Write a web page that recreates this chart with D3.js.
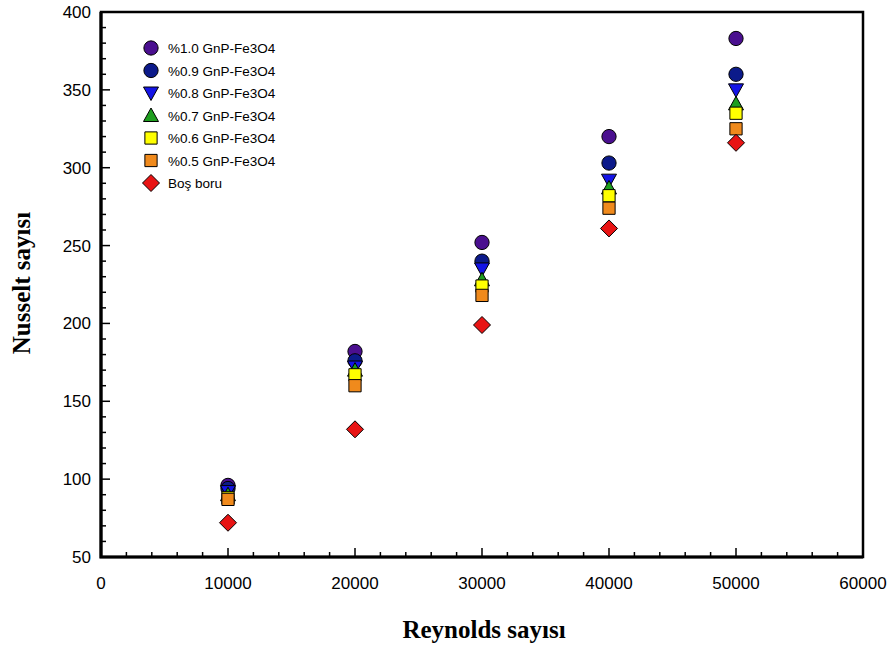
<!DOCTYPE html>
<html>
<head>
<meta charset="utf-8">
<script src="https://cdn.jsdelivr.net/npm/d3@7"></script>
<style>
    body { margin: 0; background: #fff; }
    svg { display: block; }
</style>
</head>
<body>
<script>
    "use strict";
    // data
    var reynolds = [10000, 20000, 30000, 40000, 50000];
    var seriesNames = ["%1.0 GnP-Fe3O4", "%0.9 GnP-Fe3O4", "%0.8 GnP-Fe3O4", "%0.7 GnP-Fe3O4",
                       "%0.6 GnP-Fe3O4", "%0.5 GnP-Fe3O4", "Boş boru"];
    var nu10 = [96, 182, 252, 320, 383];
    var nu09 = [94, 176, 240, 303, 360];
    var nu08 = [92, 172, 235, 292, 350];
    var nu07 = [90, 170, 228, 287, 341];
    var nu06 = [88, 167, 224, 282, 335];
    var nu05 = [87, 160, 218, 274, 325];
    var nuBos = [72, 132, 199, 261, 316];
    var xTicks = [0, 10000, 20000, 30000, 40000, 50000, 60000];
    var yTicks = [50, 100, 150, 200, 250, 300, 350, 400];

    var allSeries = [nu10, nu09, nu08, nu07, nu06, nu05, nuBos];
    var colors = ["#4a0f8f", "#0c1a8a", "#1414e6", "#1e9e1e", "#ffff00", "#f08a1c", "#e81414"];
    var shapes = ["circle", "circle", "triDown", "triUp", "square", "square", "diamond"];

    var W = 895, H = 648;
    var m = {left: 101, right: 863, top: 12, bottom: 557};

    var svg = d3.select("body").append("svg").attr("width", W).attr("height", H);

    var x = d3.scaleLinear().domain([0, 60000]).range([m.left, m.right]);
    var y = d3.scaleLinear().domain([50, 400]).range([m.bottom, m.top]);

    function symbolPath(shape) {
        if (shape === "circle") { return d3.symbol(d3.symbolCircle, 160)(); }
        if (shape === "square") { return d3.symbol(d3.symbolSquare, 150)(); }
        if (shape === "triUp") { return "M0,-7.5L7.5,6L-7.5,6Z"; }
        if (shape === "triDown") { return "M0,7.5L7.5,-6L-7.5,-6Z"; }
        return "M0,-8.5L8.5,0L0,8.5L-8.5,0Z";
    }

    // minor + major ticks, pointing inward
    var xMinor = d3.range(0, 60001, 2000);
    var yMinor = d3.range(50, 401, 10);
    var tickG = svg.append("g").attr("stroke", "#000").attr("stroke-width", 1.5);
    xMinor.forEach(function (v) {
        var len = v % 10000 === 0 ? 9 : 5;
        tickG.append("line").attr("x1", x(v)).attr("x2", x(v))
            .attr("y1", m.bottom).attr("y2", m.bottom - len);
    });
    yMinor.forEach(function (v) {
        var len = v % 50 === 0 ? 9 : 5;
        tickG.append("line").attr("y1", y(v)).attr("y2", y(v))
            .attr("x1", m.left).attr("x2", m.left + len);
    });

    // frame
    svg.append("rect").attr("x", m.left).attr("y", m.top)
        .attr("width", m.right - m.left).attr("height", m.bottom - m.top)
        .attr("fill", "none").attr("stroke", "#000").attr("stroke-width", 2.5);
    // bottom and left edges are a bit heavier
    svg.append("path")
        .attr("d", "M" + m.left + "," + m.top + "V" + m.bottom + "H" + m.right)
        .attr("fill", "none").attr("stroke", "#000").attr("stroke-width", 3.2);

    // tick labels
    svg.append("g").selectAll("text").data(xTicks).enter().append("text")
        .attr("x", function (d) { return x(d); }).attr("y", m.bottom + 32)
        .attr("text-anchor", "middle")
        .style("font-family", "Liberation Sans, Arial, sans-serif").style("font-size", "17px")
        .text(function (d) { return d; });
    svg.append("g").selectAll("text").data(yTicks).enter().append("text")
        .attr("x", m.left - 10).attr("y", function (d) { return y(d) + 6; })
        .attr("text-anchor", "end")
        .style("font-family", "Liberation Sans, Arial, sans-serif").style("font-size", "17px")
        .text(function (d) { return d; });

    // axis titles
    svg.append("text").attr("x", 484).attr("y", 638)
        .attr("text-anchor", "middle")
        .style("font-family", "Liberation Serif, Times New Roman, serif")
        .style("font-size", "25px").style("font-weight", "bold")
        .text("Reynolds sayısı");
    svg.append("text").attr("transform", "translate(30,283) rotate(-90)")
        .attr("text-anchor", "middle")
        .style("font-family", "Liberation Serif, Times New Roman, serif")
        .style("font-size", "25px").style("font-weight", "bold")
        .text("Nusselt sayısı");

    // data markers, later series drawn on top
    allSeries.forEach(function (vals, i) {
        svg.append("g").selectAll("path").data(vals).enter().append("path")
            .attr("d", symbolPath(shapes[i]))
            .attr("transform", function (d, j) { return "translate(" + x(reynolds[j]) + "," + y(d) + ")"; })
            .attr("fill", colors[i]).attr("stroke", "#000").attr("stroke-width", 1);
    });

    // legend
    var leg = svg.append("g").attr("transform", "translate(151,48)");
    seriesNames.forEach(function (name, i) {
        var row = leg.append("g").attr("transform", "translate(0," + (i * 22.5) + ")");
        row.append("path").attr("d", symbolPath(shapes[i]))
            .attr("fill", colors[i]).attr("stroke", "#000").attr("stroke-width", 1);
        row.append("text").attr("x", 17).attr("y", 5)
            .style("font-family", "Liberation Sans, Arial, sans-serif").style("font-size", "13.5px")
            .text(name);
    });
</script>
</body>
</html>
